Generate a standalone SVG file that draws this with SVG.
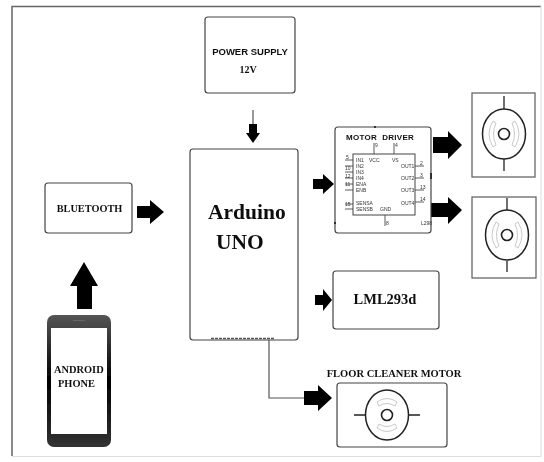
<svg xmlns="http://www.w3.org/2000/svg" width="544" height="462" viewBox="0 0 544 462">
<defs>
<filter id="soft" x="-2%" y="-2%" width="104%" height="104%"><feGaussianBlur stdDeviation="0.45"/></filter>
<linearGradient id="bar" x1="0" y1="0" x2="0" y2="1"><stop offset="0" stop-color="#555"/><stop offset="0.5" stop-color="#000"/><stop offset="1" stop-color="#333"/></linearGradient>
<g id="motor">
<ellipse cx="0" cy="0" rx="21.5" ry="25" fill="#fff" stroke="#222" stroke-width="1.5"/>
<circle cx="0" cy="0" r="5.500" fill="#fff" stroke="#222" stroke-width="1.6"/>
<path d="M-11 -13 Q-19 0 -11 13 L-8 11 Q-13 0 -8 -11 Z M11 -13 Q19 0 11 13 L8 11 Q13 0 8 -11 Z" fill="#fff" stroke="#bbb" stroke-width="0.8"/>
</g>
</defs>
<style>
.box{fill:#fff;stroke:#444;stroke-width:1.2}
.frame{fill:#fff;stroke:#666;stroke-width:1.3}
.ar{fill:#000}
.wire{fill:none;stroke:#555;stroke-width:1.2}
.lead{fill:none;stroke:#222;stroke-width:1.3}
.pin{fill:none;stroke:#333;stroke-width:0.8}
text{font-family:"Liberation Serif",serif;fill:#111;font-weight:bold}
.sans{font-family:"Liberation Sans",sans-serif}
.tiny{font-family:"Liberation Sans",sans-serif;font-size:5px;font-weight:normal;fill:#333}
</style>
<rect width="544" height="462" fill="#fff"/>
<g filter="url(#soft)">
<path d="M12 456V6.500H541" fill="none" stroke="#666" stroke-width="1.5"/>
<path d="M12 456.500H541V6" fill="none" stroke="#ddd" stroke-width="1"/>

<g id="connectors">
<path class="wire" d="M253 110V125"/>
<path class="wire" d="M269 340V398H305"/>
<path class="ar" d="M249 124H257V133H260L253 143L246 133H249Z"/>
<path class="ar" d="M137 206H150V200L164 212L150 224V218H137Z"/>
<path class="ar" d="M77 309V286H70L84 262L98 286H92V309Z"/>
<path class="ar" d="M313 179H323V174L334 184L323 194V189H313Z"/>
<path class="ar" d="M315 295H323V289L332 300L323 311V305H315Z"/>
<path class="ar" d="M304 391H318V385L332 398L318 411V405H304Z"/>
<path class="ar" d="M433 137H448V131L462 145L448 159V153H433Z"/>
<path class="ar" d="M431 203H448V197L462 210L448 224V217H431Z"/>
</g>

<g id="power-supply">
<rect class="box" x="205" y="17" width="90" height="76" rx="3"/>
<text class="sans" x="250" y="55" font-size="9.500" text-anchor="middle">POWER SUPPLY</text>
<text x="248" y="73" font-size="10" text-anchor="middle">12V</text>
</g>

<g id="arduino-uno">
<rect class="box" x="190" y="149" width="108" height="191" rx="3"/>
<path d="M211 338.500H274" stroke="#555" stroke-width="1.500" stroke-dasharray="3 1"/>
<text x="208" y="219" font-size="21.500">Arduino</text>
<text x="216" y="249" font-size="21.500">UNO</text>
</g>

<g id="bluetooth">
<rect class="box" x="45" y="183" width="87" height="50" rx="3"/>
<text x="89.500" y="212" font-size="10.300" text-anchor="middle">BLUETOOTH</text>
</g>

<g id="android-phone">
<rect x="47" y="315" width="64" height="132" rx="7" fill="url(#bar)"/>
<rect x="51" y="328" width="56" height="106" fill="#fff"/>
<path d="M73 320.500H85" stroke="#666" stroke-width="1"/>
<text x="54" y="373" font-size="10.400">ANDROID</text>
<text x="58" y="387" font-size="10.400">PHONE</text>
</g>

<g id="motor-driver">
<rect class="box" x="335" y="127" width="96" height="106" rx="3"/>
<path d="M375 126V128M431 173V179M335 222V224" stroke="#111" stroke-width="1.500"/>
<text class="sans" x="346" y="140" font-size="8" letter-spacing="0.300" word-spacing="2.500">MOTOR DRIVER</text>
<rect x="353" y="154" width="62" height="61" fill="#fff" stroke="#444" stroke-width="1"/>
<path class="pin" d="M374 143V154M394 143V154M385 215V226M345 160H353M345 166H353M345 172H353M345 178H353M345 184H353M345 190H353M345 204H353M345 209H353M415 166H424M415 178H424M415 190H424M415 202H424"/>
<text class="tiny" x="356" y="162">IN1</text>
<text class="tiny" x="356" y="168">IN2</text>
<text class="tiny" x="356" y="174">IN3</text>
<text class="tiny" x="356" y="180">IN4</text>
<text class="tiny" x="356" y="186">ENA</text>
<text class="tiny" x="356" y="192">ENB</text>
<text class="tiny" x="356" y="205">SENSA</text>
<text class="tiny" x="356" y="211">SENSB</text>
<text class="tiny" x="369" y="162">VCC</text>
<text class="tiny" x="392" y="162">VS</text>
<text class="tiny" x="380" y="211">GND</text>
<text class="tiny" x="401" y="168">OUT1</text>
<text class="tiny" x="401" y="180">OUT2</text>
<text class="tiny" x="401" y="192">OUT3</text>
<text class="tiny" x="401" y="205">OUT4</text>
<text class="tiny" x="375" y="147">9</text>
<text class="tiny" x="395" y="147">4</text>
<text class="tiny" x="386" y="225">8</text>
<text class="tiny" x="421" y="225">L298</text>
<text class="tiny" x="420" y="165">2</text>
<text class="tiny" x="420" y="177">3</text>
<text class="tiny" x="420" y="189">13</text>
<text class="tiny" x="420" y="201">14</text>
<text class="tiny" x="346" y="159">5</text>
<text class="tiny" x="345" y="170">10</text>
<text class="tiny" x="345" y="178">12</text>
<text class="tiny" x="345" y="186">11</text>
<text class="tiny" x="345" y="206">15</text>
</g>

<g id="motor-1">
<rect class="frame" x="472" y="93" width="63" height="84"/>
<path class="lead" d="M504 96V110M504 158V171"/>
<use href="#motor" x="504" y="134"/>
</g>

<g id="motor-2">
<rect class="frame" x="472" y="197" width="64" height="81"/>
<path class="lead" d="M507 198V210M507 261V272"/>
<use href="#motor" x="507" y="235"/>
</g>

<g id="lml293d">
<rect class="box" x="333" y="271" width="106" height="58" rx="3"/>
<text x="385" y="304" font-size="14.500" text-anchor="middle">LML293d</text>
</g>

<g id="floor-cleaner-motor">
<text x="394" y="377" font-size="10.500" text-anchor="middle">FLOOR CLEANER MOTOR</text>
<rect class="box" x="337" y="383" width="110" height="64" rx="3"/>
<path class="lead" d="M354 415H366M408 415H420"/>
<ellipse cx="387" cy="415" rx="21.500" ry="25" fill="#fff" stroke="#222" stroke-width="1.500"/>
<circle cx="387" cy="415" r="5.500" fill="#fff" stroke="#222" stroke-width="1.600"/>
<path d="M377 402Q387 395 397 402L395 406Q387 401 379 406ZM377 428Q387 435 397 428L395 424Q387 429 379 424Z" fill="#fff" stroke="#bbb" stroke-width="0.800"/>
</g>
</g>
</svg>
